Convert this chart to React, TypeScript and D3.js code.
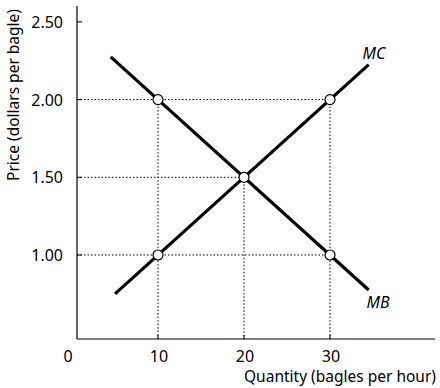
import React from "react";
import * as d3 from "d3";

// quantities (bagles per hour) and prices (dollars per bagle)
const xTicks = [10, 20, 30];
const yTicks = [1.0, 1.5, 2.0, 2.5];
const mbQ = [4.5, 34.5];
const mbP = [2.275, 0.775];
const mcQ = [5, 34.5];
const mcP = [0.75, 2.225];
const pointQ = [10, 10, 20, 30, 30];
const pointP = [2.0, 1.0, 1.5, 2.0, 1.0];
// dotted guides: [q, p] of each point that gets a horizontal / vertical guide
const hGuideQ = [30, 20, 30];
const hGuideP = [2.0, 1.5, 1.0];
const vGuideQ = [10, 20, 30];
const vGuideP = [2.0, 1.5, 2.0];

const W = 440;
const H = 388;
const font = "'Noto Sans', sans-serif";

const App = () => {
  const x = d3.scaleLinear().domain([0, 10]).range([72, 158]);
  const y = d3.scaleLinear().domain([1, 1.5]).range([255, 177.3]);
  const x0 = 77;
  const x1 = 435;
  const yBase = 339;
  const yTop = 6;

  const line = d3
    .line<[number, number]>()
    .x((d) => x(d[0]))
    .y((d) => y(d[1]));

  const mb = mbQ.map((q, i) => [q, mbP[i]] as [number, number]);
  const mc = mcQ.map((q, i) => [q, mcP[i]] as [number, number]);

  return (
    <svg width={W} height={H} style={{ position: "absolute", left: 0, top: 0 }}>
      <rect width={W} height={H} fill="#fff" />
      {/* dotted guides */}
      {hGuideQ.map((q, i) => (
        <line
          key={"h" + i}
          x1={x0}
          x2={x(q)}
          y1={y(hGuideP[i])}
          y2={y(hGuideP[i])}
          stroke="#000"
          strokeWidth={1}
          strokeDasharray="1.5,2"
        />
      ))}
      {vGuideQ.map((q, i) => (
        <line
          key={"v" + i}
          x1={x(q)}
          x2={x(q)}
          y1={y(vGuideP[i])}
          y2={yBase}
          stroke="#000"
          strokeWidth={1}
          strokeDasharray="1.5,2"
        />
      ))}
      {/* axes */}
      <line x1={x0} x2={x0} y1={yTop} y2={yBase} stroke="#000" strokeWidth={1.2} />
      <line x1={x0} x2={x1} y1={yBase} y2={yBase} stroke="#000" strokeWidth={1.2} />
      {yTicks.map((t) => (
        <g key={"yt" + t}>
          <line x1={x0} x2={x0 + 5} y1={y(t)} y2={y(t)} stroke="#000" strokeWidth={1} />
          <text
            x={63}
            y={y(t)}
            textAnchor="end"
            dominantBaseline="central"
            fontFamily={font}
            fontSize={16}
          >
            {t.toFixed(2)}
          </text>
        </g>
      ))}
      {xTicks.map((t) => (
        <g key={"xt" + t}>
          <line x1={x(t)} x2={x(t)} y1={yBase} y2={yBase - 4} stroke="#000" strokeWidth={1} />
          <text
            x={x(t) + 1}
            y={356}
            textAnchor="middle"
            dominantBaseline="central"
            fontFamily={font}
            fontSize={16}
          >
            {t}
          </text>
        </g>
      ))}
      <text x={68} y={356} textAnchor="middle" dominantBaseline="central" fontFamily={font} fontSize={16}>
        0
      </text>
      {/* axis titles */}
      <text x={436} y={376} textAnchor="end" dominantBaseline="central" fontFamily={font} fontSize={15.5}>
        Quantity (bagles per hour)
      </text>
      <text
        transform="translate(13,95) rotate(-90)"
        textAnchor="middle"
        dominantBaseline="central"
        fontFamily={font}
        fontSize={15.5}
      >
        Price (dollars per bagle)
      </text>
      {/* curves */}
      <path d={line(mb) || ""} fill="none" stroke="#000" strokeWidth={3.2} />
      <path d={line(mc) || ""} fill="none" stroke="#000" strokeWidth={3.2} />
      {pointQ.map((q, i) => (
        <circle key={"p" + i} cx={x(q)} cy={y(pointP[i])} r={5} fill="#fff" stroke="#000" strokeWidth={1.2} />
      ))}
      <text x={374} y={53} textAnchor="middle" dominantBaseline="central" fontFamily={font} fontSize={16} fontStyle="italic">
        MC
      </text>
      <text x={378} y={302} textAnchor="middle" dominantBaseline="central" fontFamily={font} fontSize={16} fontStyle="italic">
        MB
      </text>
    </svg>
  );
};

export default App;
